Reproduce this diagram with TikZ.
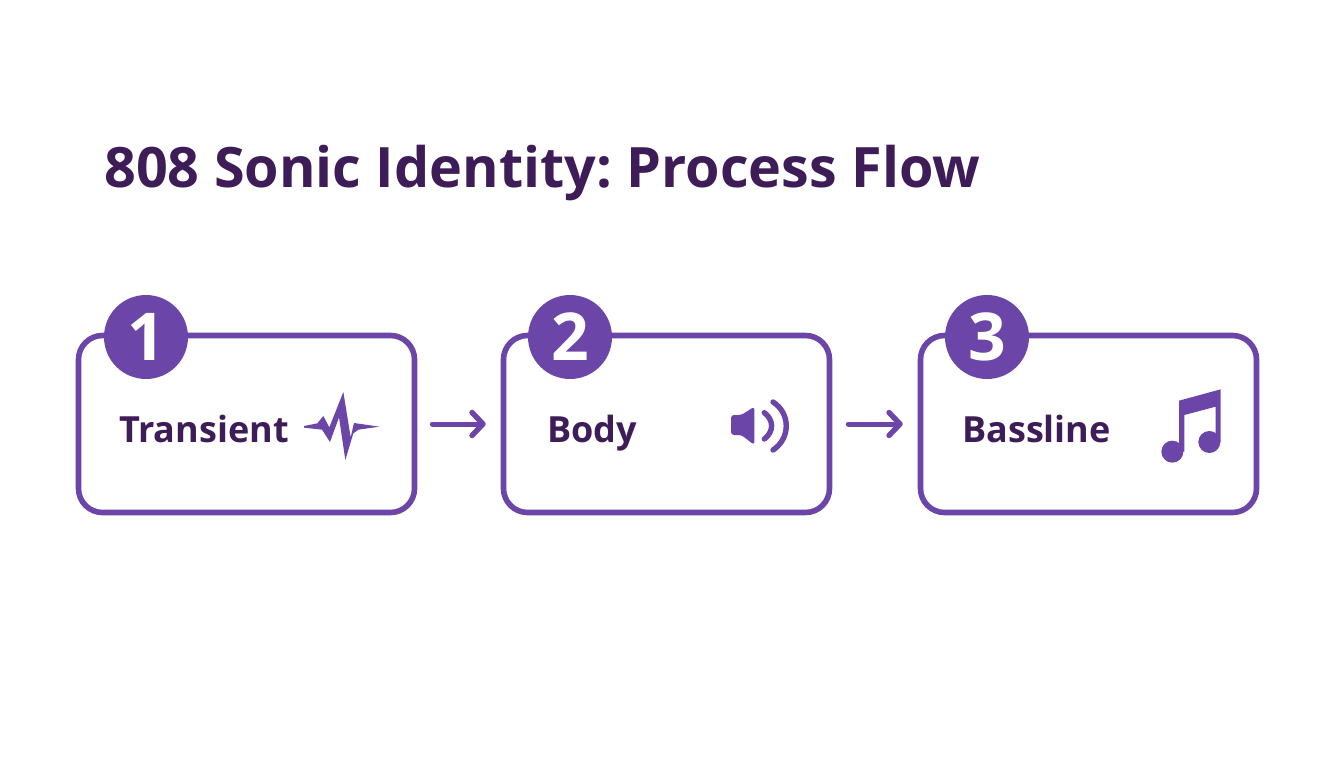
\documentclass[tikz,border=0pt]{standalone}
\usepackage{fontspec}
\setmainfont{Open Sans}
\frenchspacing
\usetikzlibrary{arrows.meta}
\definecolor{flowpurple}{HTML}{6B46A8}
\definecolor{flowdark}{HTML}{3D1C57}
\tikzset{
	stepbox/.style={draw=flowpurple, line width=5.6pt, rounded corners=24pt, fill=white, inner sep=0pt},
	badge/.style={circle, fill=flowpurple, text=white, inner sep=0pt, minimum size=84pt, font=\fontsize{66}{66}\selectfont\bfseries},
	steplabel/.style={anchor=base west, inner sep=0pt, text=flowdark, font=\fontsize{36}{36}\selectfont\bfseries},
	flowarrow/.style={draw=flowpurple, line width=5pt, line cap=round, -{Straight Barb[round, length=11pt, width=23pt, line width=5.4pt]}},
	iconfill/.style={fill=flowpurple, draw=none},
	iconline/.style={draw=flowpurple, line width=5.4pt, line cap=round}
}
\begin{document}
\begin{tikzpicture}[x=1pt, y=-1pt]
		
		\useasboundingbox (0,0) rectangle (1344,768);
		
		% Title
		\node[anchor=base west, inner sep=0pt, text=flowdark, font=\fontsize{55.7}{56}\selectfont\bfseries] (title) at (104,187) {808 Sonic Identity: Process Flow};
		
		% Draw the boxes
		\node[stepbox, minimum width=336pt, minimum height=177pt] (box1) at (246.5,424) {};
		\node[stepbox, minimum width=326pt, minimum height=177pt] (box2) at (666.5,424) {};
		\node[stepbox, minimum width=336pt, minimum height=177pt] (box3) at (1088.5,424) {};
		
		% Draw the numbered badges
		\node[badge] (badge1) at (146,337) {1};
		\node[badge] (badge2) at (570,337) {2};
		\node[badge] (badge3) at (987,337) {3};
		
		% Draw the labels
		\node[steplabel] (label1) at (119,442) {Transient};
		\node[steplabel] (label2) at (547,442) {Body};
		\node[steplabel] (label3) at (962,442) {Bassline};
		
		% Draw the arrows between boxes
		\draw[flowarrow, shorten <=15pt, shorten >=15pt] (box1) -- (box2);
		\draw[flowarrow, shorten <=16pt, shorten >=15pt] (box2) -- (box3);
		
		% Pulse icon
		\begin{scope}[shift={(290,380)}, scale=1/3]
			\fill[iconfill] (42,138) -- (82,130) -- (100,108) -- (118,142) -- (160,36) -- (182,172) -- (192,129) -- (268,140) -- (205,149) -- (190,160) -- (166,240) -- (147,112) -- (120,186) -- (96,149) -- (42,143) -- cycle;
		\end{scope}
		
		% Speaker icon
		\begin{scope}[shift={(700,370)}, scale=1/3]
			\fill[iconfill, rounded corners=3pt] (93,135) -- (124,135) -- (163,110) -- (163,225) -- (124,195) -- (93,195) -- cycle;
			\draw[iconline] (193,128) .. controls (222,150) and (222,185) .. (193,207);
			\draw[iconline] (219,96) .. controls (272,130) and (272,205) .. (219,240);
		\end{scope}
		
		% Music note icon
		\begin{scope}[shift={(1130,370)}, scale=1/3]
			\fill[iconfill] (147,92) -- (272,58) -- (272,216) -- (257,216) -- (257,110) -- (163,135) -- (163,245) -- (147,245) -- cycle;
			\fill[iconfill] (127,245) circle (33pt);
			\fill[iconfill] (238,216) circle (33pt);
		\end{scope}
		
	\end{tikzpicture}
\end{document}
